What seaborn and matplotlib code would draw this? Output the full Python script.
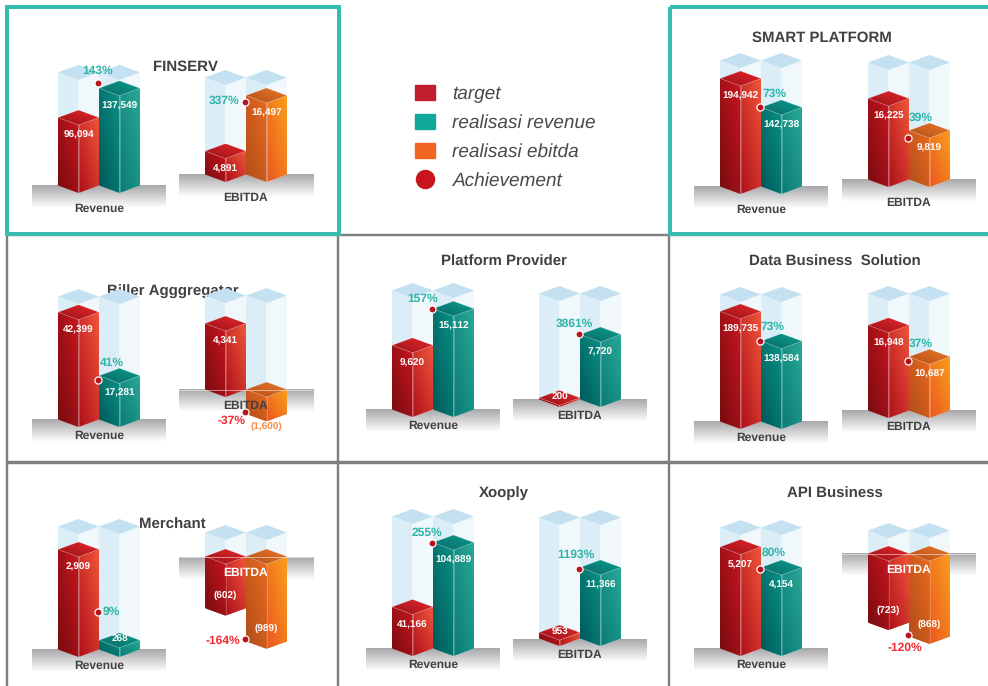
import matplotlib
matplotlib.use("Agg")
import matplotlib.pyplot as plt
from matplotlib.colors import to_rgb
from matplotlib.lines import Line2D
from matplotlib.patches import Patch, Polygon, Rectangle
import numpy as np
import pandas as pd
import seaborn as sns

sns.set_theme(style="white")
plt.rcParams["font.family"] = ["Liberation Sans", "DejaVu Sans"]
plt.rcParams["text.hinting"] = "no_hinting"
plt.rcParams["text.hinting_factor"] = 1

# ---- figures per business unit ----
panel_names = ["FINSERV", "SMART PLATFORM", "Biller Agggregator", "Platform Provider",
               "Data Business  Solution", "Merchant", "Xooply", "API Business"]
revenue_target = [96094, 194942, 42399, 9620, 189735, 2909, 41166, 5207]
revenue_actual = [137549, 142738, 17281, 15112, 138584, 268, 104889, 4154]
revenue_achievement = [143, 73, 41, 157, 73, 9, 255, 80]
revenue_ceiling = [160000, 227400, 48600, 17840, 219000, 3575, 130700, 6200]
revenue_marker = [155600, 157000, 18580, 16190, 151700, 1308, 111900, 4460]
ebitda_target = [4891, 16225, 4341, 200, 16948, -602, 953, -723]
ebitda_actual = [16497, 9819, -1600, 7720, 10687, -989, 11366, -868]
ebitda_achievement = [337, 39, -37, 3861, 37, -164, 1193, -120]
ebitda_ceiling = [20250, 23450, 6180, 12590, 23260, 280, 19360, 240]
ebitda_marker = [16700, 9820, -987, 8670, 11330, -875, 12320, -775]
legend_labels = ["target", "realisasi revenue", "realisasi ebitda", "Achievement"]

# ---- page layout, in pixels ----
WIDTH, HEIGHT = 988, 686
HALF_DEPTH = 7.5
BAR_PX = 41
PLINTH_OVERHANG = 26
PAD_TOP, PAD_BOTTOM = 150, 100

rev_left = [58, 720, 58, 392, 720, 58, 392, 720]
ebi_left = [205, 868, 205, 539, 868, 205, 539, 868]
rev_zero = [193, 194, 427, 417, 429, 657, 656, 656]
ebi_zero = [182, 187, 397, 407, 418, 564, 646, 561]
rev_scale = [.000707, .000554, .00253, .00667, .00058, .0344, .00101, .0195]
ebi_scale = [.00479, .00499, .0152, .00842, .00503, .0857, .00625, .0955]
caption_gap = [23, 23, 16, 16, 16, 16, 16, 16]
title_xy = [(185, 67), (821.5, 37.5), (172.5, 292), (504, 261.5),
            (834.5, 261.5), (172.5, 524.5), (504, 493.5), (834.5, 493.5)]
rev_pct_offset = [(0, -12), (15, -13), (14, -17), (-9, -10), (13, -14), (14, 0), (-5, -10), (14, -16)]
ebi_pct_offset = [(-21, -1), (13, -20), (-13, 9), (-4, -10), (13, -17), (-22, 2), (-3, -14), (-3, 13)]

# ---- colours: (bottom-left, top-right) of each face ----
RED = dict(left=("#780c10", "#c9151e"), right=("#b0121a", "#f0553a"), top=("#9c1318", "#e3262c"), flat="#c0141c")
TEAL = dict(left=("#005a5a", "#0a9085"), right=("#0c7c76", "#28a896"), top=("#0a6a66", "#0a9c8d"), flat="#12a89a")
ORANGE = dict(left=("#b24e1a", "#e8691f"), right=("#ea5a20", "#fa9e1b"), top=("#b55014", "#e9762b"), flat="#f26522")
GHOST = dict(left="#dbeef7", right="#f0f8fb", top="#c4e1f1")
INK = "#414042"
TEAL_TEXT = "#2fb5a8"
ALERT_TEXT = "#f02b33"
SOFT_ORANGE = "#f58b4c"
DOT = "#b8121c"
FRAME_TEAL = "#36bdb0"
FRAME_GREY = "#7f7f7f"

px = 1 / 100 * 72  # points per pixel at this dpi


def gradient_face(ax, points, colors, zorder):
    """Paint a polygon with a bottom-left to top-right colour ramp."""
    pts = np.asarray(points)
    lo, hi = to_rgb(colors[0]), to_rgb(colors[1])
    u, v = np.meshgrid(np.linspace(0, 1, 12), np.linspace(0, 1, 12))
    t = ((u + v) / 2)[..., None]
    rgb = np.array(lo) * (1 - t) + np.array(hi) * t
    im = ax.imshow(rgb, origin="lower", aspect="auto", interpolation="bilinear", zorder=zorder,
                   extent=(pts[:, 0].min(), pts[:, 0].max(), pts[:, 1].min(), pts[:, 1].max()))
    im.set_clip_path(Polygon(pts, closed=True, transform=ax.transData))


def prism(ax, x0, width, value, depth, skin, zorder, flat=False):
    """Draw one isometric column whose front edge runs from 0 to value."""
    x1, x2 = x0 + width / 2, x0 + width
    left = [(x0, depth), (x1, 0), (x1, value), (x0, value + depth)]
    right = [(x1, 0), (x2, depth), (x2, value + depth), (x1, value)]
    # hanging columns keep their lid on the zero line
    lid_level = max(value, 0)
    lid = [(x0, lid_level + depth), (x1, lid_level), (x2, lid_level + depth), (x1, lid_level + 2 * depth)]
    if flat:
        ax.add_patch(Polygon(left, closed=True, fc=skin["left"], ec="none", zorder=zorder))
        ax.add_patch(Polygon(right, closed=True, fc=skin["right"], ec="none", zorder=zorder))
        ax.add_patch(Polygon(lid, closed=True, fc=skin["top"], ec="none", zorder=zorder))
        return
    gradient_face(ax, left, skin["left"], zorder)
    gradient_face(ax, right, skin["right"], zorder)
    gradient_face(ax, lid, skin["top"], zorder + 0.1)
    ax.add_patch(Polygon(lid, closed=True, fill=False, ec="white", lw=0.4, alpha=0.3, zorder=zorder + 0.2))
    ax.plot([x1, x1], [0, value], color="white", lw=0.5, alpha=0.3, zorder=zorder + 0.2)


def value_label(ax, x, value, scale, skin):
    """Write a column's value inside it, or under it when it is too short."""
    text = f"{value:,}" if value >= 0 else f"({abs(value):,})"
    colour = "white"
    if value < 0:
        dy = 20
        if abs(value) * scale < 30:
            dy, colour = -5, SOFT_ORANGE
    elif value * scale < 15:
        dy = 8
    else:
        dy = -10
    ax.annotate(text, (x, value), xytext=(0, dy * px), textcoords="offset points",
                ha="center", va="center", fontsize=7.4, fontweight="bold", color=colour, zorder=5)


def draw_chart(fig, left_px, zero_px, scale, values, skins, ceiling, marker, pct, pct_offset,
               caption, gap):
    span = 2 * BAR_PX + 2 * PLINTH_OVERHANG
    ax = fig.add_axes([(left_px - PLINTH_OVERHANG) / WIDTH,
                       1 - (zero_px + PAD_BOTTOM) / HEIGHT,
                       span / WIDTH, (PAD_TOP + PAD_BOTTOM) / HEIGHT])
    ax.set_facecolor("none")
    frame = pd.DataFrame({"series": ["target", "realisasi"], "value": values})
    sns.barplot(data=frame, x="series", y="value", hue="series", palette=[skins[0]["flat"], skins[1]["flat"]],
                width=1, legend=False, ax=ax, zorder=0.5)
    bars = list(ax.patches)[:2]
    pad = PLINTH_OVERHANG / BAR_PX
    xlim = (-0.5 - pad, 1.5 + pad)
    ylim = (-PAD_BOTTOM / scale, PAD_TOP / scale)
    depth = HALF_DEPTH / scale

    # shaded floor under the columns
    ramp = np.linspace(0, 1, 32)[..., None, None] * np.ones((32, 1, 3))
    floor_lo, floor_hi = np.array(to_rgb("#a9a9ac")), np.array([1.0, 1.0, 1.0])
    ax.imshow(floor_lo + (floor_hi - floor_lo) * ramp, origin="upper", aspect="auto",
              interpolation="bilinear", zorder=0.1,
              extent=(xlim[0], xlim[1], depth - 23 / scale, depth))

    # empty glass columns reaching the ceiling value
    for patch in bars:
        prism(ax, patch.get_x(), patch.get_width(), ceiling, depth, GHOST, 1, flat=True)

    # solid columns built from the seaborn bars
    for patch, value, skin in zip(bars, values, skins):
        x0, width = patch.get_x(), patch.get_width()
        outline = [(x0, depth), (x0 + width / 2, 0), (x0 + width, depth),
                   (x0 + width, value + depth), (x0 + width / 2, value), (x0, value + depth)]
        patch.set_clip_path(Polygon(outline, closed=True, transform=ax.transData))
        prism(ax, x0, width, value, depth, skin, 2)
        value_label(ax, x0 + width / 2, value, scale, skin)

    if min(values) < 0:
        ax.plot(xlim, [depth, depth], color="white", lw=0.6, alpha=0.6, zorder=3)

    ax.annotate(caption, (0.5, depth), xytext=(0, -gap * px), textcoords="offset points",
                ha="center", va="center", fontsize=8.5, fontweight="bold",
                color="white" if values[0] < 0 else INK, zorder=5)

    # achievement marker and its percentage
    dot_x = 0.5 - 1.3 / BAR_PX
    sns.scatterplot(x=[dot_x], y=[marker], color=DOT, s=26, edgecolor="white", linewidth=0.9,
                    ax=ax, zorder=6, legend=False)
    ax.annotate(f"{pct}%", (dot_x, marker), xytext=(pct_offset[0] * px, -pct_offset[1] * px),
                textcoords="offset points", ha="center", va="center", fontsize=8.6, fontweight="bold",
                color=TEAL_TEXT if pct >= 0 else ALERT_TEXT, zorder=6)

    ax.set_xlim(xlim)
    ax.set_ylim(ylim)
    ax.axis("off")


fig = plt.figure(figsize=(WIDTH / 100, HEIGHT / 100), dpi=100, facecolor="white")

# page furniture: cell rules, highlighted cells and titles sit under the charts
page = fig.add_axes([0, 0, 1, 1], zorder=-1)
page.set_xlim(0, WIDTH)
page.set_ylim(HEIGHT, 0)
page.axis("off")
for x in (6.5, 338, 668.5):
    page.plot([x, x], [234, HEIGHT], color=FRAME_GREY, lw=2.4 * px, solid_capstyle="butt")
page.plot([6, WIDTH], [235, 235], color=FRAME_GREY, lw=2.4 * px, solid_capstyle="butt")
page.plot([6, WIDTH], [462, 462], color=FRAME_GREY, lw=3.4 * px, solid_capstyle="butt")
for (x, y, w, h) in ((7, 7, 331.5, 227), (669.5, 7, 340, 227)):
    page.add_patch(Rectangle((x, y), w, h, fill=False, ec=FRAME_TEAL, lw=4 * px, zorder=3))
for name, (tx, ty) in zip(panel_names, title_xy):
    page.text(tx, ty, name, ha="center", va="center", fontsize=10.5, fontweight="bold", color=INK)

for i in range(len(panel_names)):
    draw_chart(fig, rev_left[i], rev_zero[i], rev_scale[i],
               [revenue_target[i], revenue_actual[i]], (RED, TEAL),
               revenue_ceiling[i], revenue_marker[i], revenue_achievement[i], rev_pct_offset[i],
               "Revenue", caption_gap[i])
    teal_ebitda = panel_names[i] in ("Platform Provider", "Xooply")
    draw_chart(fig, ebi_left[i], ebi_zero[i], ebi_scale[i],
               [ebitda_target[i], ebitda_actual[i]], (RED, TEAL if teal_ebitda else ORANGE),
               ebitda_ceiling[i], ebitda_marker[i], ebitda_achievement[i], ebi_pct_offset[i],
               "EBITDA", caption_gap[i])

handles = [Patch(color="#bf1e2e"), Patch(color="#12a89a"), Patch(color="#f26522"),
           Line2D([], [], marker="o", ls="", ms=13, mfc="#c8151d", mec="#c8151d")]
fig.legend(handles, legend_labels, loc="upper left", bbox_to_anchor=(398 / WIDTH, 1 - 68 / HEIGHT),
           frameon=False, handlelength=1.04, handleheight=0.78, handletextpad=0.88,
           labelspacing=0.57, labelcolor="#4a4a4a", prop=dict(style="italic", size=13.9))

fig.savefig("out.png", dpi=100)
